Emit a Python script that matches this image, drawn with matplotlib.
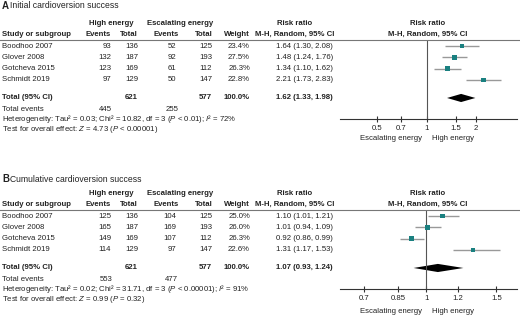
import matplotlib
matplotlib.use("Agg")
import matplotlib.pyplot as plt
import numpy as np

plt.rcParams["font.family"] = ["Liberation Sans", "DejaVu Sans"]
plt.rcParams["mathtext.fontset"] = "custom"
plt.rcParams["mathtext.rm"] = "Liberation Sans"
plt.rcParams["mathtext.it"] = "Liberation Sans:italic"
plt.rcParams["mathtext.bf"] = "Liberation Sans:bold"

studies = ["Boodhoo 2007", "Glover 2008", "Gotcheva 2015", "Schmidt 2019"]

# panel A: initial cardioversion success
a_high_events = [93, 132, 123, 97]
a_high_total = [136, 187, 169, 129]
a_esc_events = [52, 92, 61, 50]
a_esc_total = [125, 193, 112, 147]
a_weight = [23.4, 27.5, 26.3, 22.8]
a_rr = [1.64, 1.48, 1.34, 2.21]
a_lo = [1.30, 1.24, 1.10, 1.73]
a_hi = [2.08, 1.76, 1.62, 2.83]
a_pooled = [1.62, 1.33, 1.98]
a_sums = [445, 621, 255, 577]
a_het = "Heterogeneity: Tau² = 0.03; Chi² = 10.82, df = 3 ($P$ < 0.01); $I$² = 72%"
a_test = "Test for overall effect: $Z$ = 4.73 ($P$ < 0.00001)"
a_ticks = [0.5, 0.7, 1, 1.5, 2]
a_tick_labels = ["0.5", "0.7", "1", "1.5", "2"]

# panel B: cumulative cardioversion success
b_high_events = [125, 165, 149, 114]
b_high_total = [136, 187, 169, 129]
b_esc_events = [104, 169, 107, 97]
b_esc_total = [125, 193, 112, 147]
b_weight = [25.0, 26.0, 26.3, 22.6]
b_rr = [1.10, 1.01, 0.92, 1.31]
b_lo = [1.01, 0.94, 0.86, 1.17]
b_hi = [1.21, 1.09, 0.99, 1.53]
b_pooled = [1.07, 0.93, 1.24]
b_sums = [553, 621, 477, 577]
b_het = "Heterogeneity: Tau² = 0.02; Chi² = 31.71, df = 3 ($P$ < 0.00001); $I$² = 91%"
b_test = "Test for overall effect: $Z$ = 0.99 ($P$ = 0.32)"
b_ticks = [0.7, 0.85, 1, 1.2, 1.5]
b_tick_labels = ["0.7", "0.85", "1", "1.2", "1.5"]

W, H = 520, 318
fig = plt.figure(figsize=(W / 100, H / 100), dpi=100)
FS = 5.6
TXT = "#222222"
TEAL = "#1a8080"


def put(x, y, s, **kw):
    kw.setdefault("fontsize", FS)
    kw.setdefault("color", TXT)
    kw.setdefault("va", "center")
    fig.text(x / W, 1 - y / H, s, **kw)


def panel(line_y, title_gap, letter, title, he, ht, ee, et, wt, rr, lo, hi,
          pooled, sums, het, test, xlim, ticks, tick_labels, lab_gap):
    row_h = 11.3
    put(2, line_y - title_gap, letter, fontsize=7, fontweight="bold")
    put(10.5, line_y - title_gap, title, fontsize=6.2)
    gy = line_y - 16.5
    put(111, gy, "High energy", ha="center", fontweight="bold")
    put(180, gy, "Escalating energy", ha="center", fontweight="bold")
    put(295, gy, "Risk ratio", ha="center", fontweight="bold")
    put(428, gy, "Risk ratio", ha="center", fontweight="bold")
    hy = line_y - 6
    put(2, hy, "Study or subgroup", fontweight="bold")
    put(111, hy, "Events", ha="right", fontweight="bold")
    put(138, hy, "Total", ha="right", fontweight="bold")
    put(179, hy, "Events", ha="right", fontweight="bold")
    put(213, hy, "Total", ha="right", fontweight="bold")
    put(250, hy, "Weight", ha="right", fontweight="bold")
    put(295, hy, "M-H, Random, 95% CI", ha="center", fontweight="bold")
    put(428, hy, "M-H, Random, 95% CI", ha="center", fontweight="bold")
    fig.add_artist(plt.Line2D([0, 1], [1 - line_y / H] * 2, color="#777777", lw=0.8))

    r0 = line_y + 6
    for i, name in enumerate(studies):
        y = r0 + i * row_h
        put(2, y, name)
        put(111, y, str(he[i]), ha="right")
        put(138, y, str(ht[i]), ha="right")
        put(176, y, str(ee[i]), ha="right")
        put(212, y, str(et[i]), ha="right")
        put(250, y, f"{wt[i]:.1f}%", ha="right")
        put(333, y, f"{rr[i]:.2f} ({lo[i]:.2f}, {hi[i]:.2f})", ha="right")
    ty = r0 + 4.6 * row_h
    put(2, ty, "Total (95% CI)", fontweight="bold")
    put(138, ty, str(sums[1]), ha="right", fontweight="bold")
    put(212, ty, str(sums[3]), ha="right", fontweight="bold")
    put(250, ty, "100.0%", ha="right", fontweight="bold")
    put(333, ty, f"{pooled[0]:.2f} ({pooled[1]:.2f}, {pooled[2]:.2f})",
        ha="right", fontweight="bold")
    put(2, ty + 11.3, "Total events")
    put(112, ty + 11.3, str(sums[0]), ha="right")
    put(178, ty + 11.3, str(sums[2]), ha="right")
    put(2, ty + 21.5, het)
    put(2, ty + 31.5, test)

    # forest plot axes
    ax_bot = r0 + 6.42 * row_h
    ax = fig.add_axes([340 / W, 1 - ax_bot / H, 177 / W, (ax_bot - line_y) / H])
    ax.set_xscale("log")
    ax.set_xlim(*xlim)
    ax.set_ylim(6.42, (line_y - r0) / row_h)
    ax.patch.set_alpha(0)
    for s in ["top", "right", "left"]:
        ax.spines[s].set_visible(False)
    ax.spines["bottom"].set_color("#333333")
    ax.spines["bottom"].set_linewidth(0.8)
    ax.axvline(1, color="#555555", lw=0.8)
    ys = np.arange(len(studies))
    ax.hlines(ys, lo, hi, color="#999999", lw=1.0)
    ax.scatter(rr, ys, marker="s", s=np.array(wt) * 0.5, color=TEAL, zorder=3,
               linewidths=0)
    est, l, h = pooled
    dy = 0.36
    ax.fill([l, est, h, est], [4.6, 4.6 - dy, 4.6, 4.6 + dy], color="black", lw=0)
    ax.set_xticks(ticks)
    ax.set_xticklabels(tick_labels)
    ax.xaxis.set_minor_locator(matplotlib.ticker.NullLocator())
    ax.tick_params(axis="x", direction="inout", length=4, width=0.8,
                   color="#333333", labelsize=FS, labelcolor=TXT, pad=2.5)
    ax.set_yticks([])
    lab_y = ax_bot + lab_gap
    put(422, lab_y, "Escalating energy", ha="right")
    put(432, lab_y, "High energy", ha="left")


panel(40, 34, "A", "Initial cardioversion success", a_high_events, a_high_total,
      a_esc_events, a_esc_total, a_weight, a_rr, a_lo, a_hi, a_pooled, a_sums,
      a_het, a_test, (0.296, 3.55), a_ticks, a_tick_labels, 19.5)
panel(210, 31, "B", "Cumulative cardioversion success", b_high_events, b_high_total,
      b_esc_events, b_esc_total, b_weight, b_rr, b_lo, b_hi, b_pooled, b_sums,
      b_het, b_test, (0.608, 1.69), b_ticks, b_tick_labels, 23)

fig.savefig("out.png", dpi=100)
